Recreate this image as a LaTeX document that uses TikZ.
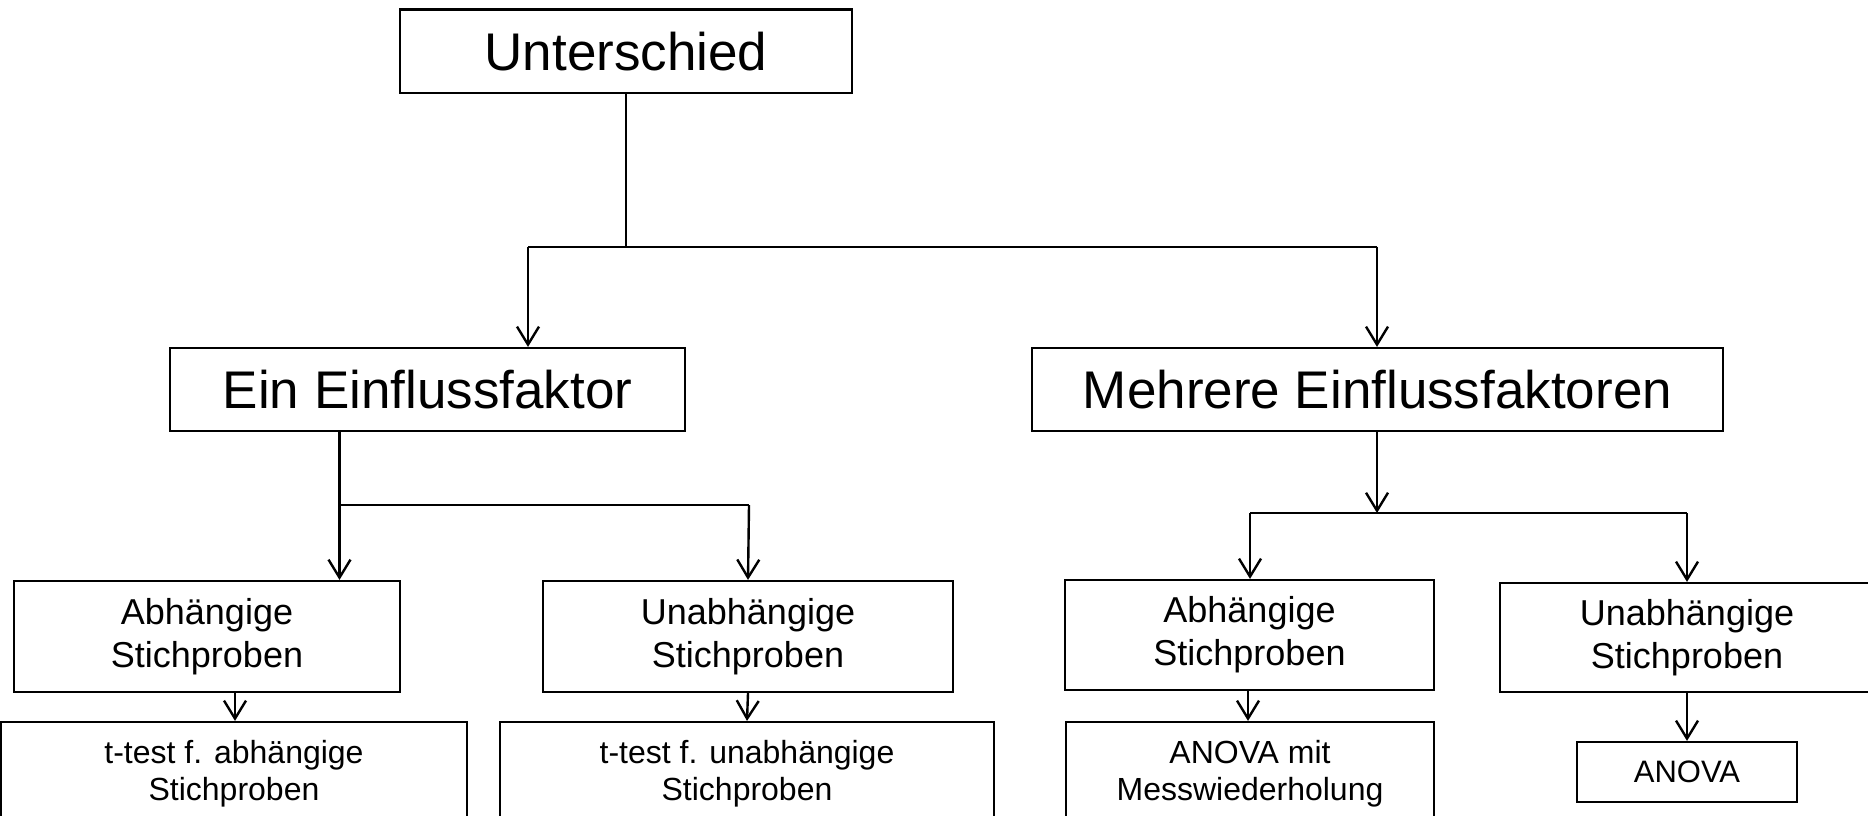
\documentclass[tikz,border=0pt]{standalone}
\usepackage{fontspec}
\setmainfont{Liberation Sans}
\usetikzlibrary{arrows.meta}
\begin{document}
\begin{tikzpicture}[x=1pt,y=-1pt,
  box/.style={draw, line width=2.2pt, inner sep=0pt, align=center},
  big/.style={font=\fontsize{53}{64}\selectfont},
  mid/.style={font=\fontsize{36}{43}\selectfont},
  small/.style={font=\fontsize{32}{37}\selectfont},
  conn/.style={line width=2.2pt},
  arr/.style={line width=2.4pt, -{Straight Barb[length=18pt,width=22pt]}}]
\useasboundingbox (0,0) rectangle (1868,816);
\clip (0,0) rectangle (1868,816);
% nodes
\node[box,big,minimum width=452pt,minimum height=83.5pt] (U) at (626,51.3) {Unterschied};
\node[box,big,minimum width=515pt,minimum height=83pt] (E1) at (427.5,389.5) {Ein Einflussfaktor};
\node[box,big,minimum width=691pt,minimum height=83pt] (M) at (1377.5,389.5) {Mehrere Einflussfaktoren};
\node[box,mid,minimum width=386pt,minimum height=111pt] (A1) at (207,636.5) {Abhängige\\Stichproben};
\node[box,mid,minimum width=410pt,minimum height=111pt] (U1) at (748,636.5) {Unabhängige\\Stichproben};
\node[box,mid,minimum width=369pt,minimum height=110pt] (A2) at (1249.5,635) {Abhängige\\Stichproben};
\node[box,mid,minimum width=374pt,minimum height=109pt] (U2) at (1687,637.5) {Unabhängige\\Stichproben};
\node[box,small,minimum width=466pt,minimum height=104pt] (T1) at (234,774) {t-test f. abhängige\\Stichproben};
\node[box,small,minimum width=494pt,minimum height=104pt] (T2) at (747,774) {t-test f. unabhängige\\Stichproben};
\node[box,small,minimum width=368pt,minimum height=104pt] (AM) at (1250,774) {ANOVA mit\\Messwiederholung};
\node[box,font=\fontsize{31}{37}\selectfont,minimum width=220pt,minimum height=60pt] (AN) at (1687,772) {ANOVA};
% junction coordinates
\coordinate (j0) at (626,246.6);
\coordinate (j0l) at (528,246.6);
\coordinate (j0r) at (1377,246.6);
\coordinate (j1) at (339.5,505);
\coordinate (j1r) at (749,505);
\coordinate (j2) at (1377,513);
\coordinate (j2l) at (1250,513);
\coordinate (j2r) at (1687,513);
% connectors
\draw[conn] (U.south) -- (j0);
\draw[conn] (j0l) -- (j0r);
\draw[arr] (j0l) -- (j0l |- E1.north);
\draw[arr] (j0r) -- (j0r |- M.north);
\draw[arr] (j1 |- E1.south) -- (j1 |- A1.north);
\draw[conn] (j1) -- (j1r);
\draw[arr] (j1r) -- (U1.north);
\draw[arr] (235,0 |- A1.south) -- (235,0 |- T1.north);
\draw[arr] (U1.south) -- (T2.north);
\draw[arr] (j2 |- M.south) -- (j2);
\draw[conn] (j2l) -- (j2r);
\draw[arr] (j2l) -- (j2l |- A2.north);
\draw[arr] (j2r) -- (j2r |- U2.north);
\draw[arr] (1248,0 |- A2.south) -- (1248,0 |- AM.north);
\draw[arr] (U2.south) -- (AN.north);
\end{tikzpicture}
\end{document}
